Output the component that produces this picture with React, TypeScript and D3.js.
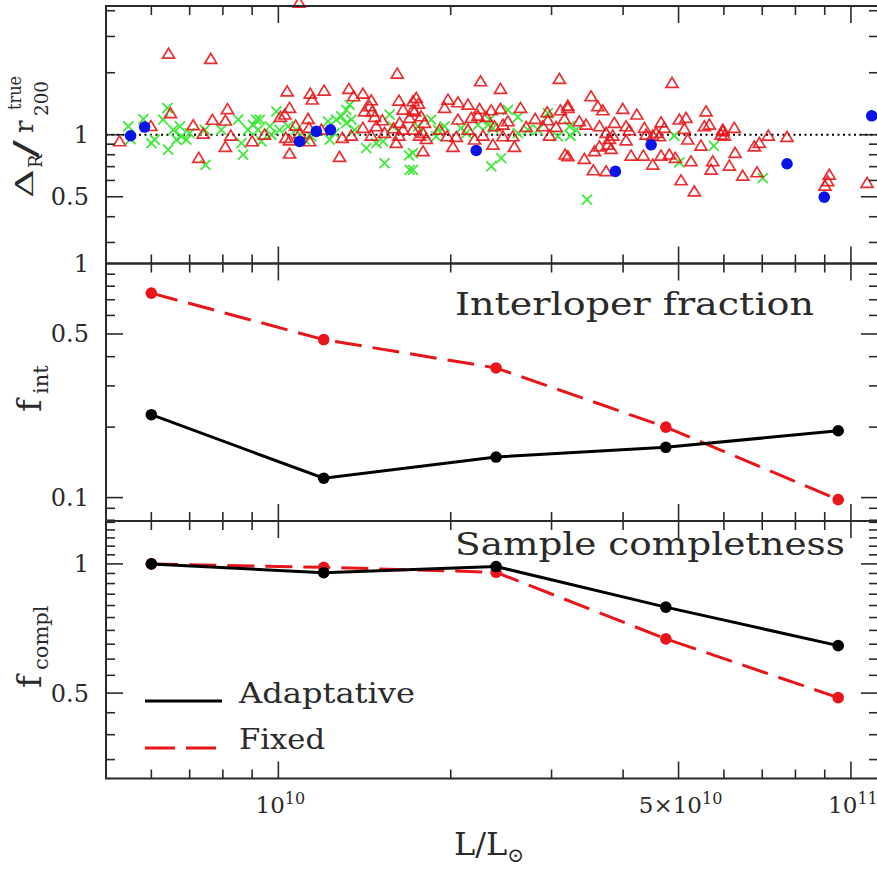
import React from "react";
import * as d3 from "d3";

// ---------- data ----------
// luminosity bins (L / Lsun)
const lumBins = [0.6e10, 1.2e10, 2.4e10, 4.75e10, 9.5e10];
// interloper fraction
const fintAdaptive = [0.226, 0.121, 0.149, 0.164, 0.193];
const fintFixed = [0.747, 0.473, 0.358, 0.2, 0.098];
// sample completeness
const fcomplAdaptive = [1.0, 0.954, 0.986, 0.793, 0.645];
const fcomplFixed = [1.0, 0.982, 0.956, 0.669, 0.488];

// scatter: [L in units of 1e10, Delta_R / r200true]
const redTriangles: [number, number][] = [
  [0.643, 2.47], [0.762, 2.33], [0.648, 1.27], [0.528, 0.928], [0.599, 1.1], [0.71, 1.11], [0.739, 1.01], [0.767, 1.18],
  [0.815, 1.33], [0.808, 1.17], [0.826, 0.989], [0.808, 0.872], [0.726, 0.771], [0.9, 0.928], [1.087, 4.37],
  [1.036, 1.62], [1.137, 1.58], [1.146, 1.48], [1.202, 1.635], [1.328, 1.667], [1.353, 1.534], [1.405, 1.58], [1.453, 1.467],
  [1.443, 1.372], [1.459, 1.297], [1.613, 1.977], [1.624, 1.462], [1.651, 1.322], [1.718, 1.451], [1.046, 1.348], [1.008, 1.219],
  [1.026, 1.251], [1.072, 1.106], [1.127, 1.192], [1.131, 1.078], [0.946, 1.0], [1.03, 0.964], [1.046, 0.938], [1.089, 1.01],
  [1.134, 0.928], [1.046, 0.809], [1.279, 0.779], [1.189, 1.057], [1.293, 0.964], [1.341, 0.989], [1.405, 1.078], [1.414, 1.297],
  [1.473, 1.219], [1.483, 1.097], [1.453, 0.989], [1.519, 1.173], [1.533, 1.019], [1.589, 1.073], [1.606, 0.911], [1.628, 1.14],
  [1.651, 1.057], [1.624, 0.989], [1.695, 1.205], [1.718, 1.057], [1.718, 1.322],
  [2.255, 1.814], [2.443, 1.667], [3.096, 1.864], [1.741, 1.507], [1.757, 1.414], [1.978, 1.479], [1.951, 1.348], [2.059, 1.435],
  [2.144, 1.398], [1.729, 1.297], [1.776, 1.227], [2.246, 1.332], [2.354, 1.312], [2.443, 1.332], [2.648, 1.348], [2.948, 1.283],
  [3.109, 1.312], [3.203, 1.383], [2.059, 1.183], [2.172, 1.205], [2.231, 1.236], [2.307, 1.219], [1.8, 1.14], [1.789, 1.019],
  [1.813, 0.953], [1.764, 0.989], [1.912, 1.057], [1.972, 0.981], [2.045, 0.974], [2.018, 0.872], [1.789, 0.83], [2.144, 1.057],
  [2.201, 0.946], [2.277, 0.989], [2.385, 1.097], [2.467, 1.118], [2.517, 1.16], [2.37, 0.894], [2.467, 0.981], [2.568, 0.981],
  [2.584, 0.872], [2.709, 1.09], [2.809, 1.192], [2.897, 1.097], [2.975, 0.989], [2.956, 1.173], [3.055, 1.09], [3.168, 0.8],
  [3.159, 1.192],
  [4.87, 1.782], [3.516, 1.534], [3.613, 1.372], [3.687, 1.312], [3.995, 1.332], [4.227, 1.251], [3.203, 1.348], [3.355, 1.16],
  [3.446, 1.118], [3.637, 1.097], [3.862, 1.14], [4.048, 1.097], [4.102, 1.049], [3.736, 1.019], [3.837, 0.989], [3.786, 0.953],
  [4.358, 1.078], [4.388, 1.0], [4.568, 1.019], [4.66, 1.147], [4.722, 1.078], [4.507, 0.989], [4.628, 0.981], [5.015, 1.183],
  [5.152, 1.205], [5.118, 1.066], [5.584, 1.297], [5.546, 1.097], [5.659, 1.118], [5.973, 1.057], [5.932, 1.0], [4.048, 0.938],
  [3.637, 0.877], [3.565, 0.83], [3.761, 0.894], [3.812, 0.852], [3.203, 0.785], [3.423, 0.762], [3.549, 0.671], [3.736, 0.664],
  [4.131, 0.791], [4.34, 0.791], [4.507, 0.715], [4.66, 0.791], [4.818, 0.8], [4.935, 0.771], [5.257, 0.742], [5.472, 0.884],
  [5.737, 0.742], [5.698, 0.676], [5.05, 0.6], [5.327, 0.53], [5.188, 0.946],
  [5.973, 1.038], [6.011, 0.989], [6.257, 1.078], [6.781, 0.877], [6.918, 0.911], [7.173, 0.989], [7.733, 0.974], [6.275, 0.815],
  [6.133, 0.707], [6.471, 0.632], [6.855, 0.656], [9.165, 0.639], [9.106, 0.594], [9.008, 0.565], [10.67, 0.583],
];

const greenCrosses: [number, number][] = [
  [0.547, 1.097], [0.552, 0.953], [0.581, 1.192], [0.64, 1.348], [0.629, 1.183], [0.608, 0.946], [0.6, 0.911], [0.642, 0.846],
  [0.655, 1.057], [0.673, 1.097], [0.677, 0.981], [0.691, 0.946], [0.7, 1.019], [0.664, 0.946], [0.744, 1.057], [0.746, 0.715],
  [0.795, 1.057], [0.851, 1.183], [0.862, 0.911], [0.868, 0.8], [0.885, 1.057], [0.915, 1.183], [0.922, 1.057], [0.903, 1.118],
  [0.928, 1.183], [0.966, 1.097], [0.992, 1.297], [0.972, 1.0], [1.005, 1.057], [1.04, 1.097], [0.934, 0.928], [1.075, 1.057],
  [1.112, 0.946], [1.142, 0.981], [1.221, 1.16], [1.254, 1.019], [1.288, 1.227], [1.314, 1.14], [1.332, 1.398], [1.341, 1.183],
  [1.359, 1.057], [1.229, 0.946], [1.424, 0.862], [1.483, 0.911], [1.523, 0.928], [1.533, 0.729], [1.564, 1.251], [1.585, 1.097],
  [1.691, 0.794], [1.695, 0.676], [1.314, 1.322], [1.262, 1.183],
  [1.753, 1.097], [1.849, 1.183], [1.9, 1.057], [1.951, 1.097], [1.887, 0.981], [2.086, 1.078], [2.129, 1.019], [2.231, 1.118],
  [2.323, 1.118], [2.37, 1.078], [2.338, 1.183], [2.517, 1.322], [2.62, 1.219], [2.62, 1.019], [2.728, 1.057], [2.354, 0.702],
  [2.45, 0.771], [1.718, 0.815], [1.718, 0.676], [2.956, 1.274], [3.236, 0.989], [3.076, 0.981], [2.84, 1.057],
  [3.223, 1.097], [3.311, 1.057], [4.915, 0.989], [5.761, 0.884], [5.015, 0.734], [3.46, 0.484], [7.013, 0.616],
];

const blueDots: [number, number][] = [
  [0.552, 0.989], [0.584, 1.09], [1.089, 0.928], [1.165, 1.038], [1.233, 1.057], [2.216, 0.839],
  [3.878, 0.664], [4.477, 0.894], [7.733, 0.723], [8.983, 0.498], [10.87, 1.236],
];

const xTickLabels = [
  { v: 1e10, base: "10", exp: "10" },
  { v: 5e10, base: "5×10", exp: "10" },
  { v: 1e11, base: "10", exp: "11" },
];

// ---------- layout ----------
const W = 877;
const H = 872;
const LEFT = 106;
const RIGHT = 878;
const P1 = [6, 263.5];
const P2 = [263.5, 521];
const P3 = [521, 778.5];

const FONT = "'DejaVu Serif', 'Liberation Serif', serif";
const INK = "#2a2a2a";

const x = d3.scaleLog().domain([5e9, 1.115e11]).range([LEFT, RIGHT]);
const y1 = d3.scaleLog().domain([Math.pow(10, -0.625), Math.pow(10, 0.625)]).range([P1[1], P1[0]]);
const y2 = d3.scaleLog().domain([Math.pow(10, -1.1), 1]).range([P2[1], P2[0]]);
const y3 = d3.scaleLog().domain([Math.pow(10, -0.5), Math.pow(10, 0.1)]).range([P3[1], P3[0]]);

const isMajor = (v: number) => {
  const m = v / Math.pow(10, Math.floor(Math.log10(v) + 1e-9));
  return Math.abs(m - 1) < 1e-6 || Math.abs(m - 5) < 1e-6;
};
const MAJ = 17;
const MIN = 9;

function Panel({ y, top, bottom, labels }: { y: any; top: number; bottom: number; labels: { v: number; t: string }[] }) {
  const xt = x.ticks(20).filter((v) => x(v) > LEFT + 0.5 && x(v) < RIGHT - 0.5);
  const yt = y.ticks(20).filter((v: number) => y(v) > top + 0.5 && y(v) < bottom - 0.5);
  return (
    <g>
      {xt.map((v, i) => {
        const L = isMajor(v) ? MAJ : MIN;
        const px = x(v);
        return (
          <g key={"x" + i}>
            <line x1={px} x2={px} y1={top} y2={top + L} stroke={INK} strokeWidth={1.6} />
            <line x1={px} x2={px} y1={bottom} y2={bottom - L} stroke={INK} strokeWidth={1.6} />
          </g>
        );
      })}
      {yt.map((v: number, i: number) => {
        const L = isMajor(v) ? MAJ : MIN;
        const py = y(v);
        return (
          <g key={"y" + i}>
            <line x1={LEFT} x2={LEFT + L} y1={py} y2={py} stroke={INK} strokeWidth={1.6} />
            <line x1={RIGHT} x2={RIGHT - L} y1={py} y2={py} stroke={INK} strokeWidth={1.6} />
          </g>
        );
      })}
      {labels.map((l, i) => (
        <text key={"l" + i} x={89} y={y(l.v) + 8.5} textAnchor="end" fontFamily={FONT} fontSize={24} fill={INK}>
          {l.t}
        </text>
      ))}
      <rect x={LEFT} y={top} width={RIGHT - LEFT} height={bottom - top} fill="none" stroke={INK} strokeWidth={2} />
    </g>
  );
}

const tri = (cx: number, cy: number) => `M${cx},${cy - 5.6}L${cx + 6},${cy + 4.3}L${cx - 6},${cy + 4.3}Z`;

export default function App() {
  const lineGen = (ys: any) =>
    d3
      .line<number>()
      .x((_, i) => x(lumBins[i]))
      .y((d) => ys(d));

  const RED = "#e8161a";
  const BLUE = "#0a14e6";
  const GREEN = "#3fe83a";

  const series = (ys: any, fixed: number[], adaptive: number[]) => (
    <g>
      <path d={lineGen(ys)(fixed) || ""} fill="none" stroke={RED} strokeWidth={3} strokeDasharray="27,11" />
      {fixed.map((v, i) => (
        <circle key={"f" + i} cx={x(lumBins[i])} cy={ys(v)} r={5.8} fill={RED} />
      ))}
      <path d={lineGen(ys)(adaptive) || ""} fill="none" stroke="#000" strokeWidth={3} />
      {adaptive.map((v, i) => (
        <circle key={"a" + i} cx={x(lumBins[i])} cy={ys(v)} r={5.8} fill="#000" />
      ))}
    </g>
  );

  return (
    <svg width={W} height={H} style={{ position: "absolute", left: 0, top: 0, background: "#fff" }}>
      <rect x={0} y={0} width={W} height={H} fill="#fff" />

      {/* panel 1 scatter */}
      <line x1={LEFT} x2={RIGHT} y1={y1(1)} y2={y1(1)} stroke="#000" strokeWidth={2} strokeDasharray="2,3.5" />
      {greenCrosses.map(([l, r], i) => {
        const cx = x(l * 1e10);
        const cy = y1(r);
        const s = 5;
        return (
          <path key={"g" + i} d={`M${cx - s},${cy - s}L${cx + s},${cy + s}M${cx - s},${cy + s}L${cx + s},${cy - s}`} stroke={GREEN} strokeWidth={1.8} />
        );
      })}
      {redTriangles.map(([l, r], i) => (
        <path key={"t" + i} d={tri(x(l * 1e10), y1(r))} fill="none" stroke={RED} strokeWidth={1.7} strokeOpacity={0.9} />
      ))}
      {blueDots.map(([l, r], i) => (
        <circle key={"b" + i} cx={x(l * 1e10)} cy={y1(r)} r={5.8} fill={BLUE} />
      ))}

      <Panel y={y1} top={P1[0]} bottom={P1[1]} labels={[{ v: 1, t: "1" }, { v: 0.5, t: "0.5" }]} />
      <Panel y={y2} top={P2[0]} bottom={P2[1]} labels={[{ v: 1, t: "1" }, { v: 0.5, t: "0.5" }, { v: 0.1, t: "0.1" }]} />
      <Panel y={y3} top={P3[0]} bottom={P3[1]} labels={[{ v: 1, t: "1" }, { v: 0.5, t: "0.5" }]} />

      {series(y2, fintFixed, fintAdaptive)}
      {series(y3, fcomplFixed, fcomplAdaptive)}

      {/* annotations */}
      <text x={455} y={315} fontFamily={FONT} fontSize={32} fill={INK} textLength={359} lengthAdjust="spacingAndGlyphs">
        Interloper fraction
      </text>
      <text x={455} y={555} fontFamily={FONT} fontSize={32} fill={INK} textLength={390} lengthAdjust="spacingAndGlyphs">
        Sample completness
      </text>

      {/* legend */}
      <line x1={145} x2={222} y1={701} y2={701} stroke="#000" strokeWidth={3} />
      <line x1={145} x2={216} y1={748} y2={748} stroke={RED} strokeWidth={3} strokeDasharray="30,11" />
      <text x={239} y={703} fontFamily={FONT} fontSize={28} fill={INK} textLength={176} lengthAdjust="spacingAndGlyphs">
        Adaptative
      </text>
      <text x={239} y={749} fontFamily={FONT} fontSize={28} fill={INK} textLength={86} lengthAdjust="spacingAndGlyphs">
        Fixed
      </text>

      {/* x tick labels */}
      {xTickLabels.map((t, i) => (
        <text key={"xl" + i} x={x(t.v) + 2} y={813} textAnchor="middle" fontFamily={FONT} fill={INK}>
          <tspan fontSize={23}>{t.base}</tspan>
          <tspan fontSize={16} dy={-9}>
            {t.exp}
          </tspan>
        </text>
      ))}

      {/* x axis title */}
      <text x={454} y={855} fontFamily={FONT} fontSize={32} fill={INK}>
        L/L
        <tspan fontSize={20} dy={7}>
          ⊙
        </tspan>
      </text>

      {/* y axis title panel 1 */}
      <g fontFamily={FONT} fill={INK}>
        <text transform="translate(33,198) rotate(-90)" fontSize={24} textLength={29} lengthAdjust="spacingAndGlyphs">Δ</text>
        <text transform="translate(42,168) rotate(-90)" fontSize={18}>R</text>
        <text transform="translate(36,158) rotate(-90)" fontSize={32} textLength={18} lengthAdjust="spacingAndGlyphs">/</text>
        <text transform="translate(33,133) rotate(-90)" fontSize={26}>r</text>
        <text transform="translate(21,110) rotate(-90)" fontSize={18} textLength={34} lengthAdjust="spacingAndGlyphs">true</text>
        <text transform="translate(48,116) rotate(-90)" fontSize={18} textLength={35} lengthAdjust="spacingAndGlyphs">200</text>
      </g>

      {/* y axis title panel 2 */}
      <g fontFamily={FONT} fill={INK}>
        <text transform="translate(41,412) rotate(-90)" fontSize={34}>f</text>
        <text transform="translate(48,394) rotate(-90)" fontSize={21}>int</text>
      </g>

      {/* y axis title panel 3 */}
      <g fontFamily={FONT} fill={INK}>
        <text transform="translate(41,688) rotate(-90)" fontSize={34}>f</text>
        <text transform="translate(48,670) rotate(-90)" fontSize={21}>compl</text>
      </g>
    </svg>
  );
}
